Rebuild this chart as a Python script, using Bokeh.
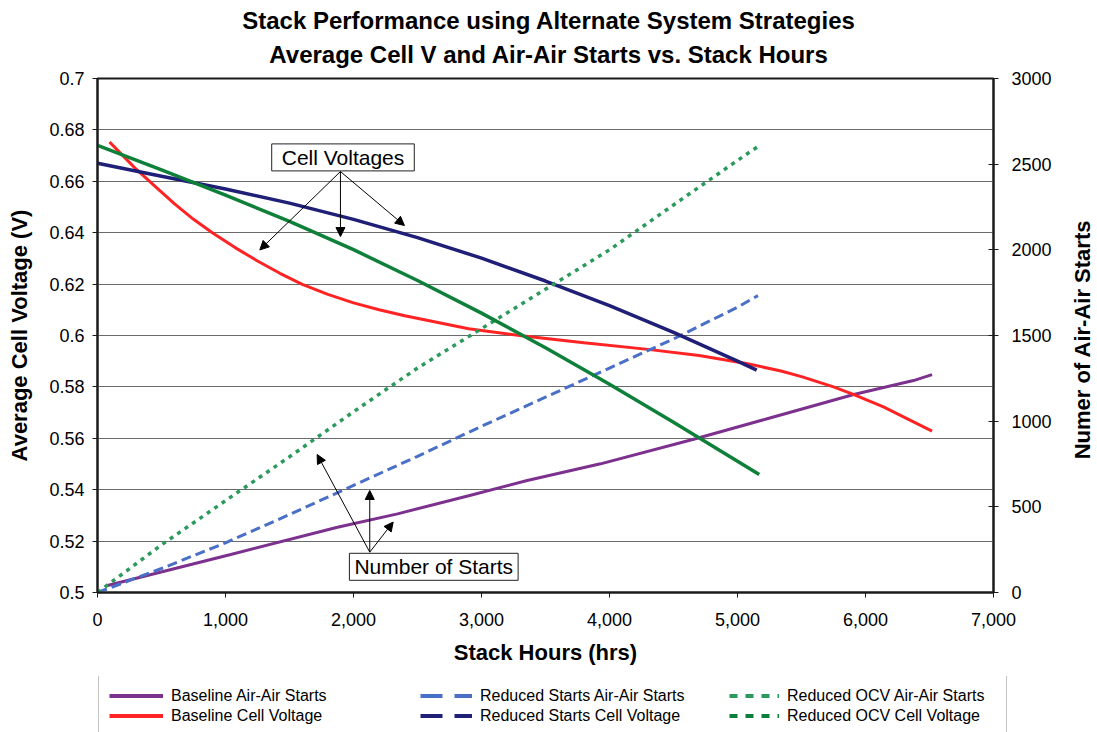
import math
from bokeh.plotting import figure
from bokeh.layouts import column, row
from bokeh.models import (Range1d, LinearAxis, FixedTicker, NumeralTickFormatter,
                          Label, Arrow, NormalHead, Legend, LegendItem)
from bokeh.embed import file_html
from bokeh.resources import INLINE

# ---------------- data ----------------
baseline_starts_hrs = [78, 1041, 1875, 2344, 2900, 3357, 3930, 4672, 5232, 5908, 6375, 6520]
baseline_starts = [41, 222, 381, 459, 565, 654, 751, 897, 1014, 1156, 1237, 1272]

baseline_cv_hrs = [94, 200, 300, 450, 600, 750, 900, 1075, 1250, 1425, 1600, 1800, 2000, 2200, 2400,
                   2900, 3330, 3800, 4300, 4700, 5080, 5340, 5500, 5750, 5900, 6140, 6520]
baseline_cv = [0.6753, 0.6699, 0.6648, 0.6580, 0.6513, 0.6452, 0.6399, 0.6342, 0.6290, 0.6242,
               0.6199, 0.6160, 0.6127, 0.6100, 0.6077, 0.6026, 0.5998, 0.5972, 0.5946, 0.5922,
               0.5890, 0.5862, 0.5840, 0.5800, 0.5772, 0.5722, 0.5628]

reduced_starts_hrs = [0, 500, 1000, 1500, 2000, 2500, 3000, 3500, 4000, 4500, 5000, 5160]
reduced_starts = [0, 140, 290, 455, 625, 795, 970, 1140, 1310, 1480, 1665, 1733]

reduced_cv_hrs = [0, 500, 1000, 1500, 2000, 2500, 3000, 3500, 4000, 4500, 5000, 5150]
reduced_cv = [0.6670, 0.6620, 0.6570, 0.6515, 0.6452, 0.6381, 0.6301, 0.6212, 0.6116, 0.6012,
              0.5900, 0.5865]

ocv_starts_hrs = [0, 500, 1000, 1500, 2000, 2500, 3000, 3500, 4000, 4500, 5000, 5160]
ocv_starts = [0, 278, 536, 792, 1055, 1310, 1540, 1770, 2000, 2262, 2522, 2603]

ocv_cv_hrs = [0, 500, 1000, 1500, 2000, 2500, 3000, 3500, 4000, 4500, 5000, 5170]
ocv_cv = [0.6740, 0.6644, 0.6546, 0.6444, 0.6334, 0.6214, 0.6087, 0.5952, 0.5810, 0.5662,
          0.5511, 0.5459]

hour_ticks = [0, 1000, 2000, 3000, 4000, 5000, 6000, 7000]
volt_ticks = [0.5, 0.52, 0.54, 0.56, 0.58, 0.6, 0.62, 0.64, 0.66, 0.68, 0.7]
volt_labels = ["0.5", "0.52", "0.54", "0.56", "0.58", "0.6", "0.62", "0.64", "0.66", "0.68", "0.7"]
start_ticks = [0, 500, 1000, 1500, 2000, 2500, 3000]

series_labels = ["Baseline Air-Air Starts", "Baseline Cell Voltage",
                 "Reduced Starts Air-Air Starts", "Reduced Starts Cell Voltage",
                 "Reduced OCV Air-Air Starts", "Reduced OCV Cell Voltage"]

title_lines = ["Stack Performance using Alternate System Strategies",
               "Average Cell V and Air-Air Starts vs. Stack Hours"]

# annotation anchor points (hours, volts)
cv_box = (1918, 0.6693)
cv_origin = (1898, 0.6638)
cv_targets = [(1268, 0.6333), (1898, 0.6385), (2398, 0.6428)]
ns_box = (2627, 0.5100)
ns_origin = (2127, 0.5157)
ns_targets = [(1716, 0.5537), (2127, 0.5397), (2310, 0.5274)]

# ---------------- styling ----------------
FONT = "Liberation Sans"
PURPLE = "#7D318E"
RED = "#FF2323"
BLUE = "#4A6FC7"
NAVY = "#1F1F78"
LGREEN = "#2B9A5C"
DGREEN = "#0F8039"
AXC = "#1a1a1a"


def strip(width, height, xr=(0, 1)):
    f = figure(width=width, height=height, output_backend="svg", toolbar_location=None,
               x_range=Range1d(*xr), y_range=Range1d(0, 1), x_axis_type=None, y_axis_type=None,
               min_border_left=0, min_border_right=0, min_border_top=0, min_border_bottom=0,
               background_fill_color="white", border_fill_color="white", outline_line_color=None)
    f.grid.visible = False
    try:
        f.frame_align = False
    except Exception:
        pass
    return f


# ---------------- title strip ----------------
tt = strip(1097, 70)
tt.add_layout(Label(x=548.5, y=50, x_units="screen", y_units="screen", text=title_lines[0],
                    text_align="center", text_baseline="middle", text_font=FONT,
                    text_font_size="24px", text_font_style="bold", text_color="black"))
tt.add_layout(Label(x=548.5, y=16, x_units="screen", y_units="screen", text=title_lines[1],
                    text_align="center", text_baseline="middle", text_font=FONT,
                    text_font_size="24px", text_font_style="bold", text_color="black"))

# ---------------- main chart ----------------
p = figure(width=1067, height=606, output_backend="svg", toolbar_location=None,
           x_range=Range1d(0, 7000), y_range=Range1d(0.5, 0.7),
           min_border_left=97, min_border_right=74, min_border_top=8, min_border_bottom=84,
           background_fill_color="white", border_fill_color="white")
try:
    p.frame_align = False
except Exception:
    pass
p.extra_y_ranges = {"starts": Range1d(0, 3000)}
p.outline_line_color = AXC
p.outline_line_width = 2

xa = p.xaxis[0]
ya = p.yaxis[0]
ra = LinearAxis(y_range_name="starts")
p.add_layout(ra, "right")

xa.ticker = FixedTicker(ticks=hour_ticks)
xa.formatter = NumeralTickFormatter(format="0,0")
vt = FixedTicker(ticks=volt_ticks)
ya.ticker = vt
ya.major_label_overrides = {v: s for v, s in zip(volt_ticks, volt_labels)}
ra.ticker = FixedTicker(ticks=start_ticks)

for ax in (xa, ya, ra):
    ax.axis_line_color = AXC
    ax.axis_line_width = 2
    ax.major_tick_line_color = AXC
    ax.major_tick_line_width = 1
    ax.major_tick_out = 5
    ax.major_tick_in = 0
    ax.minor_tick_line_color = None
    ax.major_label_text_font = FONT
    ax.major_label_text_font_size = "18px"
    ax.major_label_text_color = "black"
    ax.axis_label_text_font = FONT
    ax.axis_label_text_font_size = "22px"
    ax.axis_label_text_font_style = "bold"
    ax.axis_label_text_color = "black"
ra.major_tick_in = 5
xa.major_label_standoff = 15
ya.major_label_standoff = 8
ra.major_label_standoff = 13
xa.axis_label = "Stack Hours (hrs)"
xa.axis_label_standoff = 11
ya.axis_label = "Average Cell Voltage (V)"
ya.axis_label_standoff = 14

p.xgrid.visible = False
p.ygrid.ticker = vt
p.ygrid.grid_line_color = "#6a6a6a"
p.ygrid.grid_line_width = 1

p.line(baseline_starts_hrs, baseline_starts, y_range_name="starts", line_color=PURPLE, line_width=3)
p.line(baseline_cv_hrs, baseline_cv, line_color=RED, line_width=3)
p.line(reduced_starts_hrs, reduced_starts, y_range_name="starts", line_color=BLUE, line_width=3,
       line_dash="10 5")
p.line(reduced_cv_hrs, reduced_cv, line_color=NAVY, line_width=3.5)
p.line(ocv_starts_hrs, ocv_starts, y_range_name="starts", line_color=LGREEN, line_width=3.5,
       line_dash="4 5")
p.line(ocv_cv_hrs, ocv_cv, line_color=DGREEN, line_width=3.5)


def arrows(origin, targets):
    for (xe, ye) in targets:
        p.add_layout(Arrow(end=NormalHead(size=9, fill_color="black", line_color="black", line_width=1),
                           x_start=origin[0], y_start=origin[1], x_end=xe, y_end=ye,
                           line_color="black", line_width=1))


arrows(cv_origin, cv_targets)
arrows(ns_origin, ns_targets)

p.add_layout(Label(x=cv_box[0], y=cv_box[1], text="Cell Voltages", text_align="center",
                   text_baseline="middle", text_font=FONT, text_font_size="21px", text_color="black",
                   border_line_color="#222222", border_line_width=1, background_fill_color="white",
                   padding=dict(x=10, y=2)))
p.add_layout(Label(x=ns_box[0], y=ns_box[1], text="Number of Starts", text_align="center",
                   text_baseline="middle", text_font=FONT, text_font_size="21px", text_color="black",
                   border_line_color="#222222", border_line_width=1, background_fill_color="white",
                   padding=dict(x=5, y=2)))

# ---------------- right axis title strip ----------------
rl = strip(30, 606)
rl.add_layout(Label(x=15, y=337, x_units="screen", y_units="screen", text="Numer of Air-Air Starts",
                    angle=math.pi / 2, text_align="center", text_baseline="middle", text_font=FONT,
                    text_font_size="22px", text_font_style="bold", text_color="black"))

# ---------------- legend strip ----------------
# the legend's renderers are the real series, drawn outside this strip's visible range
lg = strip(1097, 56, xr=(-2, -1))
r_bs = lg.line(baseline_starts_hrs, baseline_starts, line_color=PURPLE, line_width=4)
r_bc = lg.line(baseline_cv_hrs, baseline_cv, line_color=RED, line_width=4)
r_rs = lg.line(reduced_starts_hrs, reduced_starts, line_color=BLUE, line_width=4, line_dash="22 12")
r_rc = lg.line(reduced_cv_hrs, reduced_cv, line_color=NAVY, line_width=4, line_dash="22 12")
r_os = lg.line(ocv_starts_hrs, ocv_starts, line_color=LGREEN, line_width=4, line_dash="8 8")
r_oc = lg.line(ocv_cv_hrs, ocv_cv, line_color=DGREEN, line_width=4, line_dash="8 8")
proxies = [r_bs, r_bc, r_rs, r_rc, r_os, r_oc]

common = dict(spacing=1, glyph_height=19, label_height=19, label_standoff=8,
              label_text_font=FONT, label_text_font_size="16px", label_text_color="black", margin=0)
# (x, y) of each column's legend block inside the strip
leg_loc = [(98, -4), (420, 7), (729, 7)]
glyph_w = [54, 52, 50]
for c in range(3):
    items = [LegendItem(label=series_labels[2 * c], renderers=[proxies[2 * c]]),
             LegendItem(label=series_labels[2 * c + 1], renderers=[proxies[2 * c + 1]])]
    if c == 0:
        leg = Legend(items=items, location=leg_loc[c], glyph_width=glyph_w[c], label_width=825,
                     padding=10, border_line_color="#8a8a8a", border_line_width=1.5,
                     background_fill_color="white", **common)
    else:
        leg = Legend(items=items, location=leg_loc[c], glyph_width=glyph_w[c], padding=0,
                     border_line_color=None, background_fill_alpha=0, **common)
    lg.add_layout(leg, "center")

layout = column(tt, row(p, rl, spacing=0), lg, spacing=0)
open("out.html", "w").write(file_html(layout, INLINE))
